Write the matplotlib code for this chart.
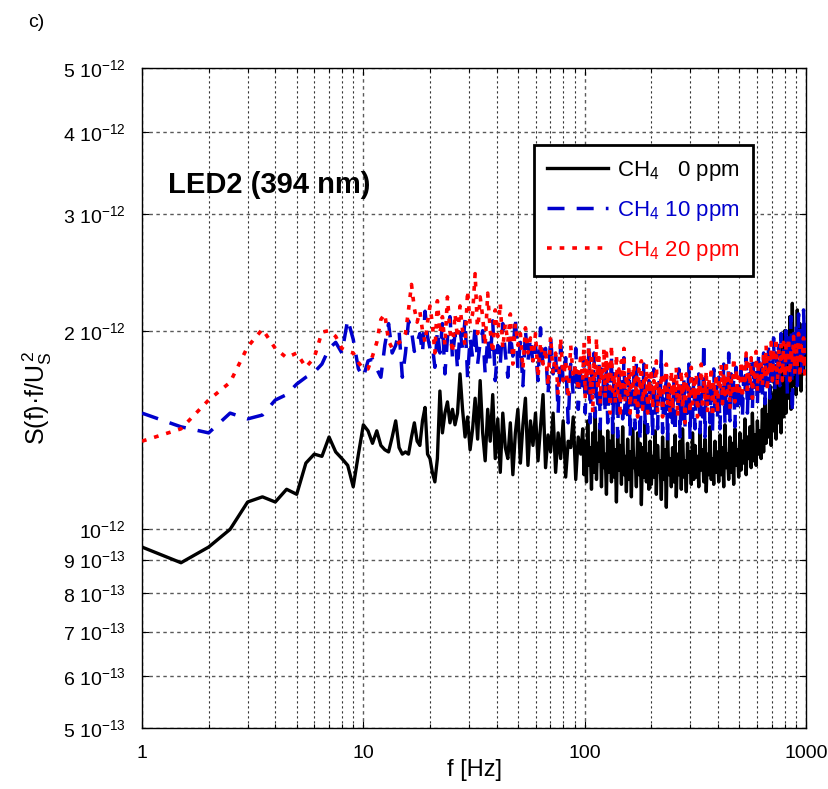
import numpy as np
import matplotlib
matplotlib.use('Agg')
import matplotlib.pyplot as plt
from matplotlib.ticker import FixedLocator, FixedFormatter, LogLocator, NullFormatter

matplotlib.rc('font', family='Liberation Sans', size=13)
matplotlib.rcParams['mathtext.default'] = 'regular'

# spectra, values in units of 1e-14 (i.e. 150 -> 1.50e-12)
# low part: 1 .. 20 Hz in 0.5 Hz steps
f_low = np.arange(1.0, 20.01, 0.5)
# mid part: 60 samples log-spaced 20.5 .. 96 Hz
f_mid = np.geomspace(20.5, 96, 60)
# top part: 180 samples log-spaced 98 .. 1000 Hz
f_top = np.geomspace(98, 1000, 180)

black_low = [94, 89, 94, 100, 110, 112, 110, 115, 113, 126,
             130, 129, 138, 131, 128, 125, 116, 130, 144, 141,
             135, 141, 134, 132, 131, 138, 146, 133, 130, 131,
             130, 138, 145, 136, 134, 146, 153, 130, 128]
black_mid = [122, 118, 128, 162, 140, 150, 156, 145, 152, 144,
             150, 172, 152, 138, 148, 132, 142, 158, 137, 168,
             140, 127, 152, 136, 160, 128, 147, 122, 150, 133,
             128, 145, 121, 140, 152, 126, 144, 158, 125, 146,
             134, 150, 127, 143, 160, 124, 139, 131, 150, 122,
             140, 128, 146, 120, 136, 133, 148, 119, 138, 130]
black_top = [142, 121, 136, 118, 146, 125, 133, 115, 140, 122, 150, 119, 135, 127, 144, 116, 138, 124,
             130, 113, 141, 122, 136, 118, 145, 120, 132, 110, 139, 123, 134, 117, 143, 121, 129, 114,
             137, 119, 131, 112, 142, 124, 128, 116, 140, 121, 135, 109, 133, 120, 146, 118, 130, 115,
             136, 117, 129, 120, 141, 113, 134, 122, 127, 111, 138, 119, 132, 108, 140, 121, 128, 116,
             133, 118, 139, 112, 130, 121, 136, 115, 142, 120, 127, 114, 135, 122, 131, 117, 140, 119,
             134, 120, 129, 116, 141, 123, 132, 118, 137, 114, 130, 121, 143, 119, 128, 117, 136, 122,
             131, 118, 139, 121, 133, 116, 144, 124, 130, 119, 138, 122, 135, 117, 142, 125, 132, 120,
             140, 123, 136, 126, 147, 121, 138, 128, 143, 124, 150, 127, 139, 125, 146, 130, 141, 128,
             152, 131, 158, 135, 149, 138, 165, 134, 160, 141, 172, 137, 168, 145, 180, 140, 190, 148,
             200, 150, 185, 158, 210, 152, 220, 165, 195, 160, 215, 170, 205, 162, 190, 172, 200, 180]

blue_low = [150, 143, 140, 150, 147, 149, 157, 160, 166, 170,
            173, 178, 188, 192, 185, 208, 194, 175, 170, 180,
            181, 175, 170, 190, 205, 185, 190, 200, 170, 185,
            207, 200, 186, 192, 198, 185, 214, 196, 188]
blue_mid = [190, 176, 200, 185, 205, 172, 195, 210, 182, 198,
            175, 200, 188, 208, 170, 195, 182, 203, 178, 192,
            200, 172, 195, 180, 207, 168, 190, 178, 205, 185,
            170, 198, 183, 210, 175, 192, 165, 200, 180, 195,
            178, 190, 168, 202, 176, 188, 160, 196, 172, 185,
            150, 190, 168, 182, 145, 178, 160, 188, 152, 176]
blue_top = [165, 182, 150, 176, 158, 190, 145, 172, 160, 185, 148, 168, 155, 180, 142, 175, 162, 170,
            150, 178, 145, 168, 158, 183, 140, 172, 152, 165, 138, 176, 155, 170, 147, 182, 150, 162,
            148, 175, 138, 166, 155, 172, 142, 180, 150, 160, 136, 170, 152, 178, 145, 164, 140, 168,
            150, 165, 138, 175, 148, 162, 142, 170, 155, 186, 140, 160, 150, 172, 136, 166, 148, 158,
            145, 168, 140, 162, 152, 175, 138, 165, 147, 170, 143, 160, 150, 178, 137, 163, 148, 170,
            142, 165, 150, 172, 140, 160, 148, 192, 138, 166, 152, 170, 145, 162, 140, 175, 150, 168,
            148, 170, 142, 165, 155, 178, 145, 168, 150, 185, 146, 172, 158, 168, 143, 176, 152, 165,
            155, 175, 148, 170, 160, 182, 150, 172, 158, 178, 152, 180, 160, 175, 154, 185, 162, 178,
            160, 185, 155, 178, 165, 190, 158, 182, 168, 195, 162, 185, 170, 190, 165, 198, 172, 188,
            168, 200, 160, 195, 175, 210, 150, 198, 178, 205, 165, 212, 180, 200, 170, 215, 185, 205]

red_low = [136, 142, 157, 167, 189, 201, 188, 182, 185, 176,
           182, 199, 200, 196, 188, 186, 185, 179, 175, 175,
           183, 192, 208, 212, 193, 188, 190, 192, 193, 198,
           215, 235, 216, 206, 214, 200, 192, 206, 218]
red_mid = [205, 185, 222, 198, 210, 190, 225, 200, 185, 212,
           195, 218, 200, 190, 230, 205, 212, 244, 198, 225,
           210, 190, 228, 200, 185, 215, 196, 220, 188, 205,
           192, 212, 178, 205, 190, 198, 175, 202, 185, 195,
           180, 198, 170, 192, 178, 188, 165, 196, 172, 185,
           160, 195, 168, 180, 158, 190, 170, 178, 162, 185]
red_top = [168, 192, 158, 180, 172, 198, 160, 185, 150, 178, 170, 195, 162, 182, 155, 176, 168, 188,
           158, 185, 165, 178, 150, 190, 162, 172, 155, 184, 160, 175, 148, 180, 165, 188, 156, 172,
           160, 176, 150, 172, 165, 182, 155, 170, 148, 175, 162, 180, 152, 168, 158, 178, 150, 172,
           158, 175, 152, 168, 162, 180, 150, 166, 158, 172, 148, 170, 160, 178, 154, 166, 150, 174,
           152, 170, 160, 176, 148, 165, 158, 174, 152, 168, 145, 172, 160, 165, 150, 176, 155, 168,
           156, 172, 148, 166, 160, 178, 152, 168, 158, 174, 150, 170, 162, 176, 148, 168, 155, 172,
           150, 170, 162, 178, 155, 172, 160, 180, 158, 174, 152, 168, 162, 182, 156, 175, 160, 170,
           162, 180, 158, 176, 168, 185, 160, 178, 165, 182, 158, 175, 170, 186, 162, 180, 166, 178,
           165, 185, 170, 190, 162, 182, 172, 192, 168, 188, 175, 195, 165, 186, 172, 190, 168, 192,
           170, 190, 175, 195, 168, 188, 178, 196, 172, 192, 176, 198, 170, 190, 180, 195, 172, 188]

freq = np.concatenate([f_low, f_mid, f_top])
black = np.array(black_low + black_mid + black_top) * 1e-14
blue = np.array(blue_low + blue_mid + blue_top) * 1e-14
red = np.array(red_low + red_mid + red_top) * 1e-14

ytick_vals = [5e-13, 6e-13, 7e-13, 8e-13, 9e-13, 1e-12, 2e-12, 3e-12, 4e-12, 5e-12]
ytick_labels = ['5 10$^{-13}$', '6 10$^{-13}$', '7 10$^{-13}$', '8 10$^{-13}$', '9 10$^{-13}$',
                '10$^{-12}$', '2 10$^{-12}$', '3 10$^{-12}$', '4 10$^{-12}$', '5 10$^{-12}$']

fig = plt.figure(figsize=(8.29, 7.89), dpi=100)
ax = fig.add_axes([0.1713, 0.0773, 0.8010, 0.8365])

ax.plot(freq, black, color='black', lw=2.4, label='CH$_4$   0 ppm', zorder=3)
ax.plot(freq, blue, color='#0000cc', lw=2.5, dashes=(4.9, 3.5), label='CH$_4$ 10 ppm', zorder=4)
ax.plot(freq, red, color='#ff0000', lw=2.6, dashes=(1.3, 2.2), label='CH$_4$ 20 ppm', zorder=5)

ax.set_xscale('log')
ax.set_yscale('log')
ax.set_xlim(1, 1000)
ax.set_ylim(5e-13, 5e-12)

ax.xaxis.set_major_locator(FixedLocator([1, 10, 100, 1000]))
ax.xaxis.set_major_formatter(FixedFormatter(['1', '10', '100', '1000']))
ax.xaxis.set_minor_locator(LogLocator(base=10, subs=np.arange(2, 10)))
ax.xaxis.set_minor_formatter(NullFormatter())
ax.yaxis.set_major_locator(FixedLocator(ytick_vals))
ax.yaxis.set_major_formatter(FixedFormatter(ytick_labels))
ax.yaxis.set_minor_locator(FixedLocator([]))

ax.tick_params(which='both', direction='in', top=True, right=True, labelsize=14)
ax.tick_params(which='major', length=5, width=0.8)
ax.tick_params(which='minor', length=3, width=0.8)
ax.tick_params(axis='x', pad=12)
ax.tick_params(axis='y', pad=12)

ax.grid(True, which='major', color='0.35', ls=(0, (2.5, 2.5)), lw=1.0)
ax.grid(True, which='minor', axis='x', color='0.2', ls=(0, (2, 2.5)), lw=0.8)
for s in ax.spines.values():
    s.set_linewidth(1.0)

ax.set_xlabel('f [Hz]', fontsize=17, labelpad=-2)
ax.set_ylabel('S(f)·f/U$_S^{\\,2}$', fontsize=18, labelpad=6)

ax.text(0.039, 0.823, 'LED2 (394 nm)', transform=ax.transAxes, fontsize=21,
        fontweight='bold', va='center', ha='left')

leg = ax.legend(loc='upper right', bbox_to_anchor=(0.920, 0.883), borderaxespad=0,
                fontsize=16, handlelength=2.75, handletextpad=0.4, labelspacing=0.72,
                borderpad=0.6, fancybox=False, framealpha=1, edgecolor='black')
leg.get_frame().set_linewidth(2.0)
for txt, line in zip(leg.get_texts(), leg.get_lines()):
    txt.set_color(line.get_color())

fig.text(0.034, 0.972, 'c)', fontsize=14, va='center')

fig.savefig('out.png', dpi=100)
